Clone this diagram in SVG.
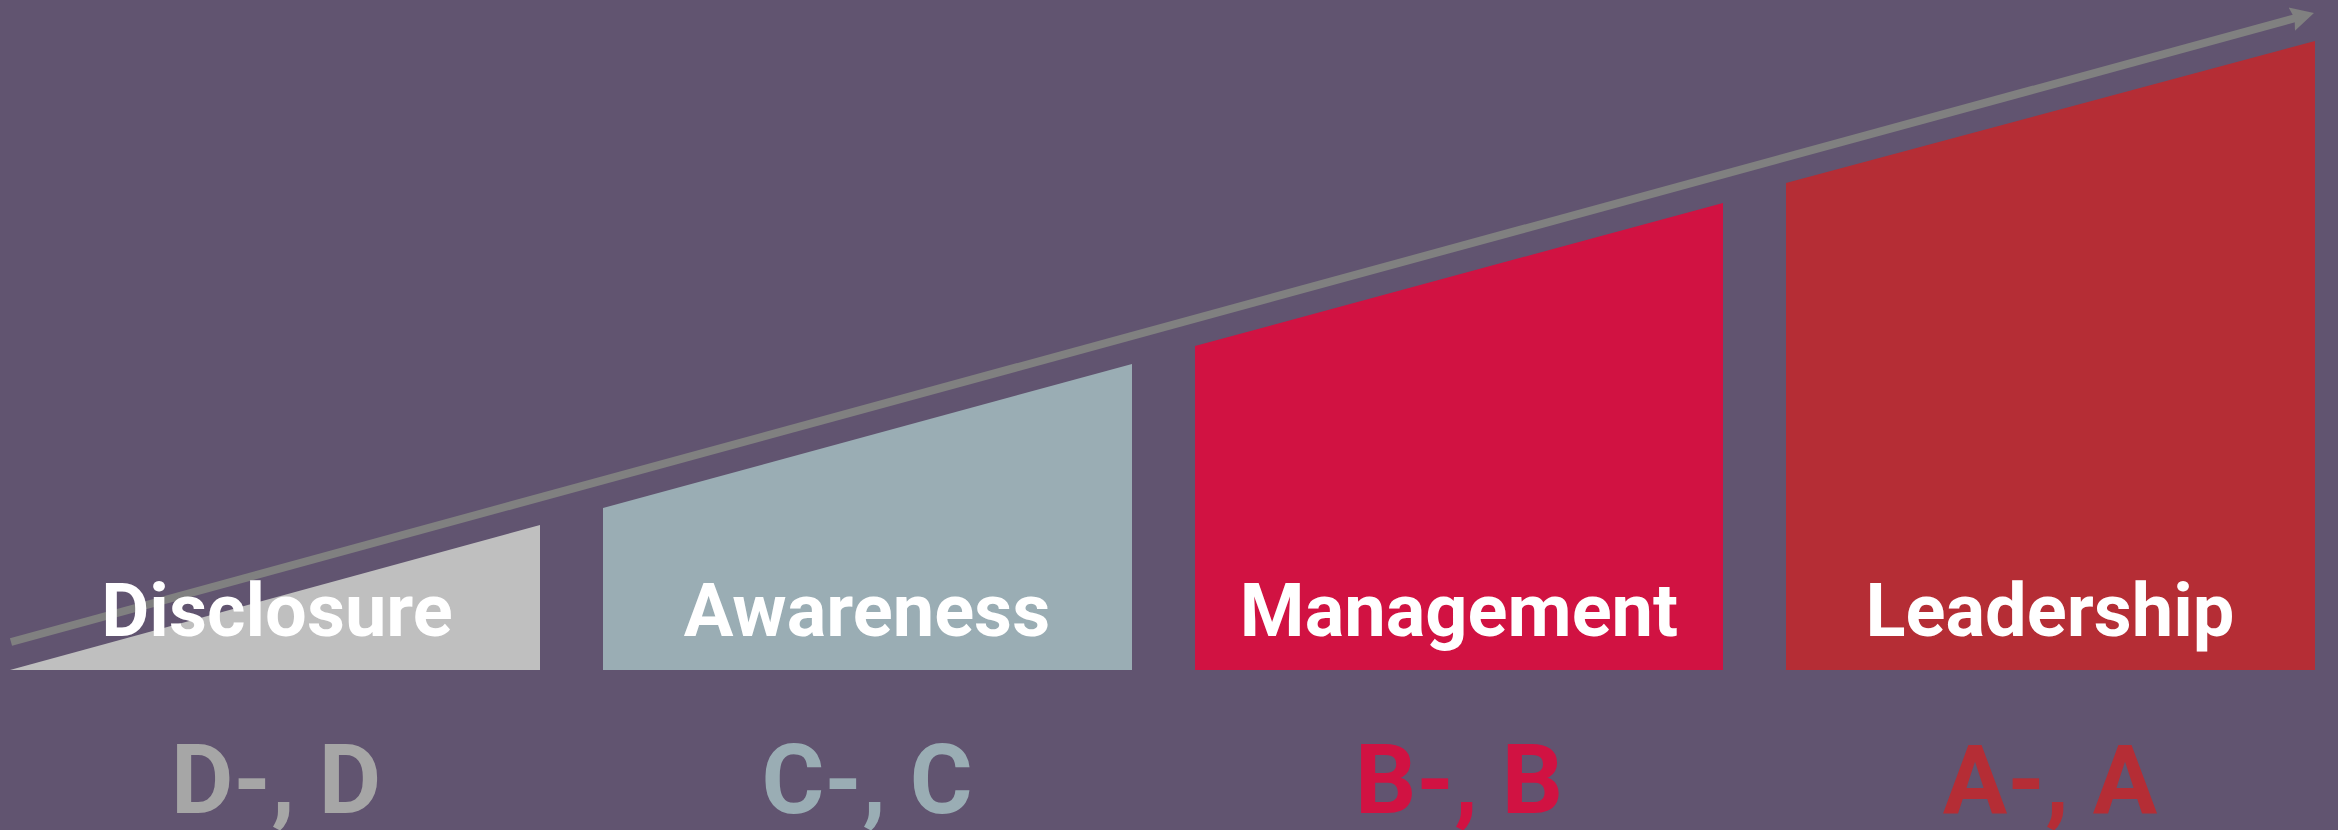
<svg xmlns="http://www.w3.org/2000/svg" width="2338" height="830" viewBox="0 0 2338 830">
<style>
.lbl{font-family:Roboto,"Liberation Sans",sans-serif;font-weight:700;font-size:74px;fill:#ffffff;text-anchor:middle}
.grd{font-family:Roboto,"Liberation Sans",sans-serif;font-weight:700;font-size:96px;text-anchor:middle}
.arrow{stroke:#808080;stroke-width:8;fill:none}
</style>
<defs>
<marker id="ah" markerUnits="userSpaceOnUse" markerWidth="26" markerHeight="28" viewBox="0 -14 26 28" refX="8" refY="0" orient="auto">
<path d="M0,-12 L23,0 L0,12 L3,0 z" fill="#808080"/>
</marker>
</defs>
<rect width="2338" height="830" fill="#615470"/>
<g id="disclosure">
<polygon points="10,670 540,525 540,670" fill="#bfbfbf"/>
</g>
<g id="awareness">
<polygon points="603,508 1132,364 1132,670 603,670" fill="#9aadb4"/>
</g>
<g id="management">
<polygon points="1195,346 1723,203 1723,670 1195,670" fill="#d11242"/>
</g>
<g id="leadership">
<polygon points="1786,183 2315,41 2315,670 1786,670" fill="#b52d35"/>
</g>
<g id="connectors">
<line class="arrow" x1="11" y1="642" x2="2299.5" y2="17" marker-end="url(#ah)"/>
</g>
<g id="labels">
<text class="lbl" x="277" y="636">Disclosure</text>
<text class="lbl" x="867" y="636">Awareness</text>
<text class="lbl" x="1459" y="636">Management</text>
<text class="lbl" x="2050" y="636">Leadership</text>
<text class="grd" x="276" y="813" fill="#a6a6a6">D-, D</text>
<text class="grd" x="867" y="813" fill="#9aadb4">C-, C</text>
<text class="grd" x="1459" y="813" fill="#d11242">B-, B</text>
<text class="grd" x="2050" y="813" fill="#b52d35">A-, A</text>
</g>
</svg>
